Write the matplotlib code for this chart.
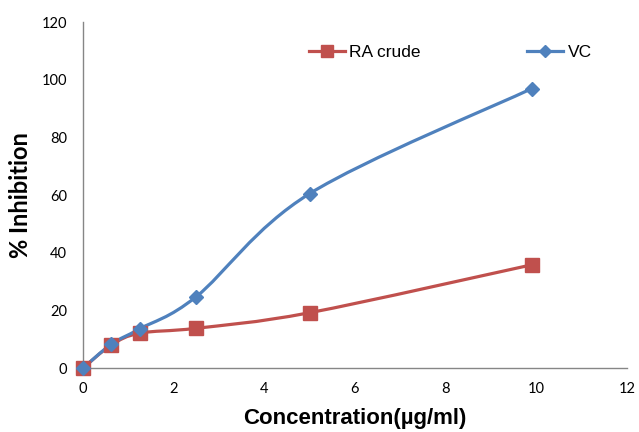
import numpy as np
import matplotlib
matplotlib.use("Agg")
from matplotlib import pyplot as plt
from matplotlib.path import Path
from matplotlib.patches import PathPatch
from matplotlib.lines import Line2D

# data
conc = [0, 0.625, 1.25, 2.5, 5, 9.9]
ra_crude = [0, 8.0, 12.1, 13.8, 19.2, 35.8]
vc = [0, 8.3, 13.6, 24.8, 60.5, 96.9]
xticks = [0, 2, 4, 6, 8, 10, 12]
yticks = [0, 20, 40, 60, 80, 100, 120]

red = "#C0504D"
blue = "#4F81BD"


def smooth_path(x, y):
    # excel style smoothed line: cubic bezier through the points
    x = np.asarray(x, float)
    y = np.asarray(y, float)
    n = len(x)
    verts = [(x[0], y[0])]
    codes = [Path.MOVETO]
    for i in range(n - 1):
        x0, y0 = (x[i - 1], y[i - 1]) if i > 0 else (x[i], y[i])
        x3, y3 = (x[i + 2], y[i + 2]) if i + 2 < n else (x[i + 1], y[i + 1])
        c1 = (x[i] + (x[i + 1] - x0) / 6, y[i] + (y[i + 1] - y0) / 6)
        c2 = (x[i + 1] - (x3 - x[i]) / 6, y[i + 1] - (y3 - y[i]) / 6)
        verts += [c1, c2, (x[i + 1], y[i + 1])]
        codes += [Path.CURVE4] * 3
    return Path(verts, codes)


fig = plt.figure(figsize=(6.39, 4.32), dpi=100)
ax = fig.add_axes([0.130, 0.148, 0.851, 0.801])

for ys, col, mk, ms in [(ra_crude, red, "s", 9.5), (vc, blue, "D", 7.5)]:
    ax.add_patch(PathPatch(smooth_path(conc, ys), facecolor="none",
                           edgecolor=col, lw=2.3, zorder=2))
    ax.plot(conc, ys, ls="none", marker=mk, ms=ms, color=col, zorder=3,
            clip_on=False)

ax.set_xlim(0, 12)
ax.set_ylim(0, 120)
ax.set_xticks(xticks)
ax.set_yticks(yticks)
ax.tick_params(length=0, labelsize=10.5, pad=10)
for lab in ax.get_xticklabels() + ax.get_yticklabels():
    lab.set_family("Lato")
ax.tick_params(axis="y", pad=11.5)

for s in ["top", "right"]:
    ax.spines[s].set_visible(False)
for s in ["left", "bottom"]:
    ax.spines[s].set_color("#868686")
    ax.spines[s].set_linewidth(1)

ax.set_xlabel("Concentration(µg/ml)", fontsize=16, fontweight="bold",
              family="Liberation Sans", labelpad=9)
ax.set_ylabel("% Inhibition", fontsize=17, fontweight="bold",
              family="Lato", labelpad=7)

handles = [Line2D([], [], color=red, lw=2.3, marker="s", ms=8),
           Line2D([], [], color=blue, lw=2.3, marker="D", ms=6.5)]
ax.legend(handles, ["RA crude", "VC"], ncol=2, frameon=False,
          loc="upper left", bbox_to_anchor=(0.386, 0.98),
          prop={"family": "Liberation Sans", "size": 12.5},
          handlelength=2.1, handletextpad=0.25, columnspacing=6.1)

fig.savefig("out.png", dpi=100)
